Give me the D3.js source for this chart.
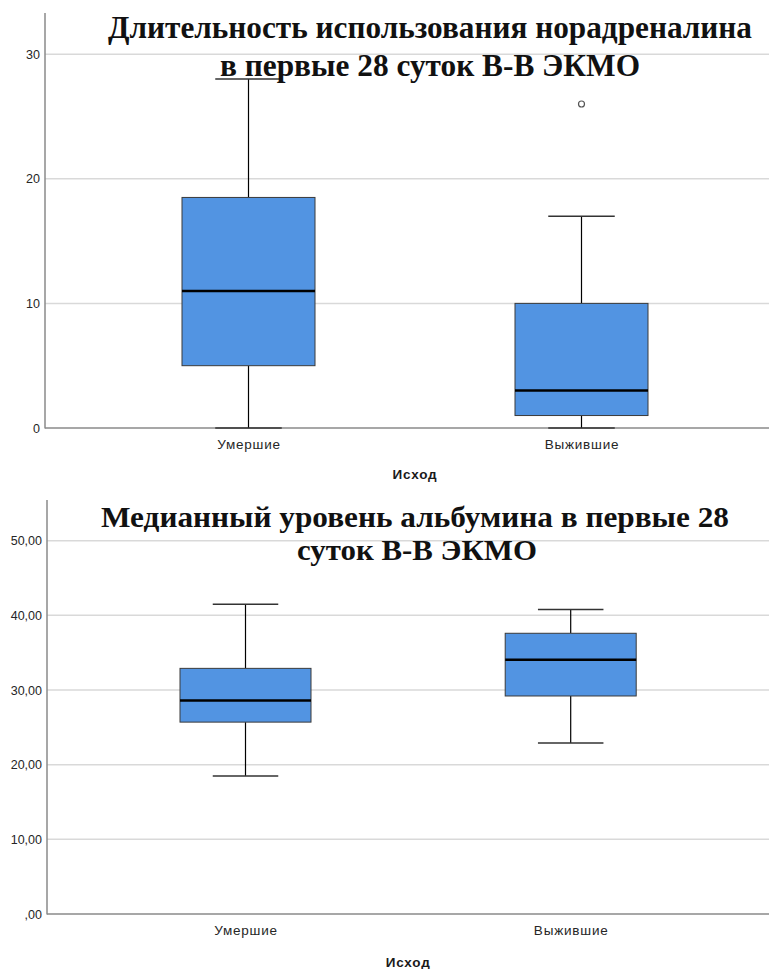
<!DOCTYPE html>
<html>
<head>
<meta charset="utf-8">
<script src="https://cdn.jsdelivr.net/npm/d3@7"></script>
<style>
  html, body { margin: 0; padding: 0; background: #fff; }
  svg { display: block; }
</style>
</head>
<body>
<svg id="chart" width="769" height="969"></svg>
<script>
// Group labels
const categories = ["Умершие", "Выжившие"];

// Noradrenaline duration (days) — box statistics per group
const noradLow    = [0, 0];
const noradQ1     = [5, 1];
const noradMedian = [11, 3];
const noradQ3     = [18.5, 10];
const noradHigh   = [28, 17];
const noradOutliers = [[], [26]];
const noradTicks = [0, 10, 20, 30];
const noradTickLabels = ["0", "10", "20", "30"];

// Median albumin level — box statistics per group
const albLow    = [18.5, 22.9];
const albQ1     = [25.7, 29.2];
const albMedian = [28.6, 34.05];
const albQ3     = [32.9, 37.6];
const albHigh   = [41.5, 40.8];
const albOutliers = [[], []];
const albTicks = [0, 10, 20, 30, 40, 50];
const albTickLabels = [",00", "10,00", "20,00", "30,00", "40,00", "50,00"];

const titleTop = ["Длительность использования норадреналина", "в первые 28 суток В-В ЭКМО"];
const titleBottom = ["Медианный уровень альбумина в первые 28", "суток В-В ЭКМО"];
const axisTitle = "Исход";

const svg = d3.select("#chart");
const W = 769;
const SANS = "Liberation Sans, Arial, sans-serif";

function drawPanel(cfg) {
  const g = svg.append("g");
  const y = d3.scaleLinear().domain(cfg.yDomain).range([cfg.bottom, cfg.top]);
  const x = d3.scalePoint().domain(categories).range(cfg.xRange);

  // gridlines
  g.append("g").selectAll("line")
    .data(cfg.ticks.filter(t => t > 0))
    .join("line")
    .attr("x1", cfg.left).attr("x2", W)
    .attr("y1", d => y(d)).attr("y2", d => y(d))
    .attr("stroke", "#d9d9d9").attr("stroke-width", 1.5);

  // y axis labels (axis line drawn separately)
  const yAxis = d3.axisLeft(y)
    .tickValues(cfg.ticks)
    .tickFormat((d, i) => cfg.tickLabels[i])
    .tickSize(0).tickPadding(5);
  const ya = g.append("g").attr("transform", `translate(${cfg.left},0)`).call(yAxis);
  ya.select(".domain").remove();
  ya.selectAll("text")
    .attr("font-family", SANS)
    .attr("font-size", 12.5).attr("fill", "#262626");

  // category labels
  const xAxis = d3.axisBottom(x).tickSize(0).tickPadding(11);
  const xa = g.append("g").attr("transform", `translate(0,${cfg.bottom})`).call(xAxis);
  xa.select(".domain").remove();
  xa.selectAll("text")
    .attr("font-family", SANS)
    .attr("font-size", 13.5).attr("letter-spacing", 0.8).attr("fill", "#262626");

  // axis lines
  g.append("line").attr("x1", cfg.left).attr("x2", cfg.left)
    .attr("y1", cfg.top).attr("y2", cfg.bottom + 0.5)
    .attr("stroke", "#8a8a8a").attr("stroke-width", 1.5);
  g.append("line").attr("x1", cfg.left).attr("x2", W)
    .attr("y1", cfg.bottom).attr("y2", cfg.bottom)
    .attr("stroke", "#8a8a8a").attr("stroke-width", 1.5);

  // axis title
  g.append("text")
    .attr("x", (cfg.xRange[0] + cfg.xRange[1]) / 2)
    .attr("y", cfg.axisTitleY)
    .attr("text-anchor", "middle")
    .attr("font-family", SANS)
    .attr("font-weight", "bold").attr("font-size", 13.5)
    .attr("letter-spacing", 0.8).attr("fill", "#1a1a1a")
    .text(axisTitle);

  const boxW = cfg.boxW, capW = boxW / 2;
  const boxes = g.append("g").selectAll("g")
    .data(categories.map((c, i) => ({
      c, low: cfg.low[i], q1: cfg.q1[i], med: cfg.median[i], q3: cfg.q3[i],
      high: cfg.high[i], out: cfg.outliers[i]
    })))
    .join("g");

  // whiskers
  boxes.append("line")
    .attr("x1", d => x(d.c)).attr("x2", d => x(d.c))
    .attr("y1", d => y(d.q3)).attr("y2", d => y(d.high))
    .attr("stroke", "#000").attr("stroke-width", 1.2);
  boxes.append("line")
    .attr("x1", d => x(d.c)).attr("x2", d => x(d.c))
    .attr("y1", d => y(d.q1)).attr("y2", d => y(d.low))
    .attr("stroke", "#000").attr("stroke-width", 1.2);
  // caps
  boxes.append("line")
    .attr("x1", d => x(d.c) - capW / 2).attr("x2", d => x(d.c) + capW / 2)
    .attr("y1", d => y(d.high)).attr("y2", d => y(d.high))
    .attr("stroke", "#333").attr("stroke-width", 1.5);
  boxes.append("line")
    .attr("x1", d => x(d.c) - capW / 2).attr("x2", d => x(d.c) + capW / 2)
    .attr("y1", d => y(d.low)).attr("y2", d => y(d.low))
    .attr("stroke", "#333").attr("stroke-width", 1.5);
  // box
  boxes.append("rect")
    .attr("x", d => x(d.c) - boxW / 2).attr("width", boxW)
    .attr("y", d => y(d.q3)).attr("height", d => y(d.q1) - y(d.q3))
    .attr("fill", "#5294e2").attr("stroke", "#3a3a3a").attr("stroke-width", 1);
  // median
  boxes.append("line")
    .attr("x1", d => x(d.c) - boxW / 2).attr("x2", d => x(d.c) + boxW / 2)
    .attr("y1", d => y(d.med)).attr("y2", d => y(d.med))
    .attr("stroke", "#000").attr("stroke-width", 2.5);
  // outliers
  boxes.selectAll("circle").data(d => d.out.map(v => ({ c: d.c, v })))
    .join("circle")
    .attr("cx", d => x(d.c)).attr("cy", d => y(d.v)).attr("r", 3)
    .attr("fill", "#fff").attr("stroke", "#555").attr("stroke-width", 1.2);

  // title lines, each stretched to its line width
  cfg.title.forEach((line, i) => {
    svg.append("text")
      .attr("x", cfg.titleX[i]).attr("y", cfg.titleY[i])
      .attr("text-anchor", "middle")
      .attr("font-family", "Liberation Serif, Times New Roman, serif")
      .attr("font-weight", "bold").attr("font-size", cfg.titleSize).attr("fill", "#111")
      .attr("textLength", cfg.titleWidth[i]).attr("lengthAdjust", "spacingAndGlyphs")
      .text(line);
  });
}

drawPanel({
  left: 45, top: 13, bottom: 428, yDomain: [0, 33.3],
  xRange: [248.5, 581.5], boxW: 133, axisTitleY: 479,
  ticks: noradTicks, tickLabels: noradTickLabels,
  low: noradLow, q1: noradQ1, median: noradMedian, q3: noradQ3, high: noradHigh,
  outliers: noradOutliers,
  title: titleTop, titleX: [430, 430], titleY: [38, 76], titleWidth: [644, 420], titleSize: 31.5
});

drawPanel({
  left: 47, top: 500, bottom: 914, yDomain: [0, 55.45],
  xRange: [245.5, 570.7], boxW: 131, axisTitleY: 967,
  ticks: albTicks, tickLabels: albTickLabels,
  low: albLow, q1: albQ1, median: albMedian, q3: albQ3, high: albHigh,
  outliers: albOutliers,
  title: titleBottom, titleX: [415, 417], titleY: [527, 560], titleWidth: [628, 240], titleSize: 30
});
</script>
</body>
</html>
